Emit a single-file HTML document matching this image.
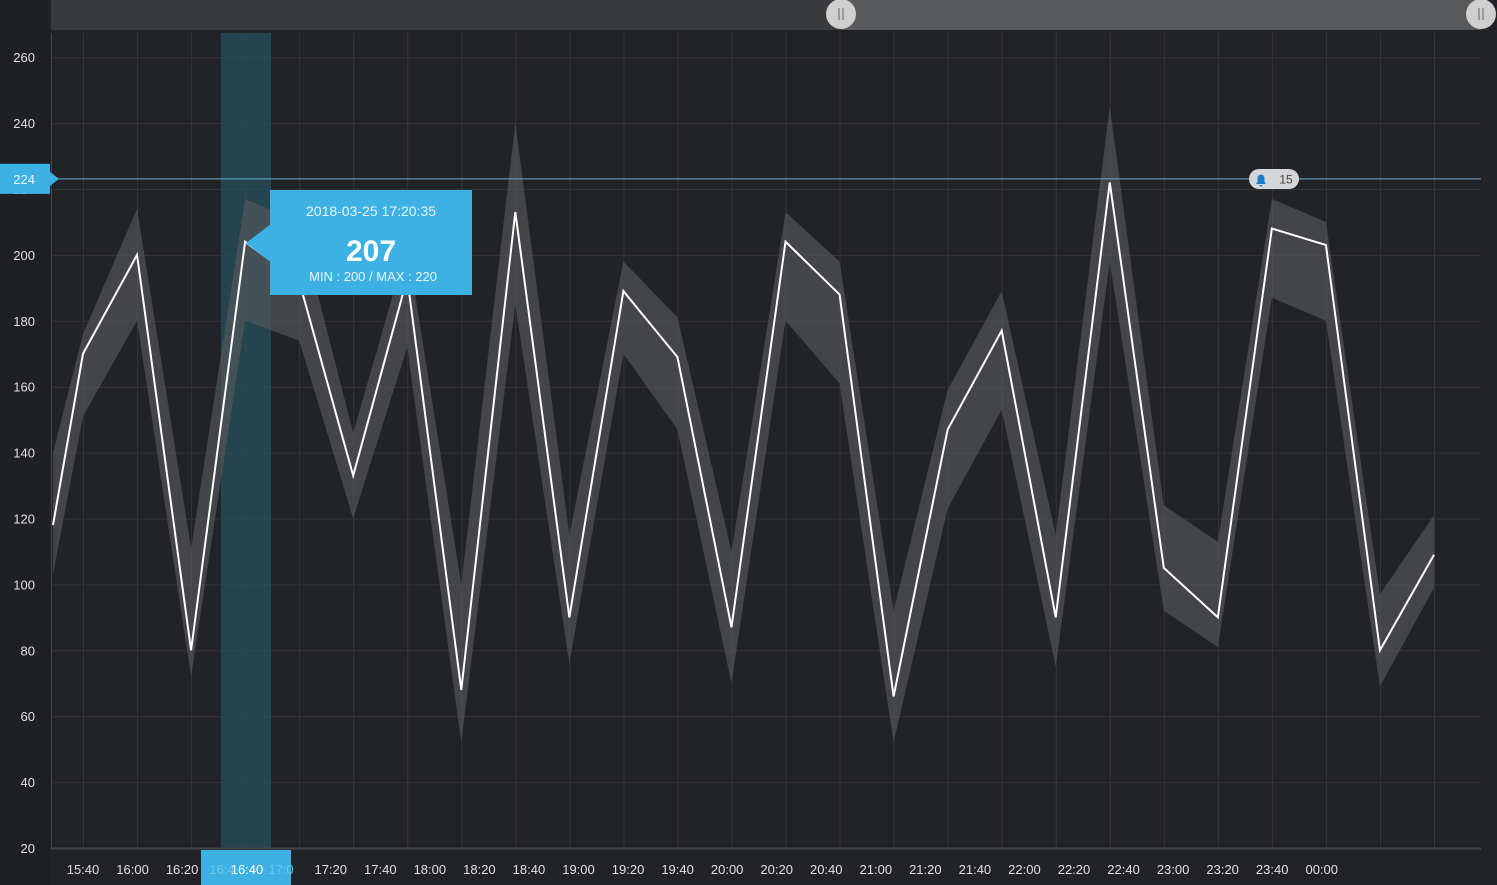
<!DOCTYPE html>
<html><head><meta charset="utf-8">
<style>
html,body{margin:0;padding:0;background:#222327;width:1497px;height:885px;overflow:hidden}
svg{display:block;font-family:"Liberation Sans",sans-serif}
</style></head>
<body>
<svg id="chart" width="1497" height="885" xmlns="http://www.w3.org/2000/svg">
  <rect x="0" y="0" width="1497" height="885" fill="#222327"/>
  <rect x="0" y="0" width="50" height="885" fill="#1f2023"/>
  <g id="scroll">
    <rect x="51" y="0" width="790" height="30" fill="#393a3e"/>
    <rect x="841" y="0" width="640" height="30" fill="#58595b"/>
    <g><circle cx="841" cy="14" r="15" fill="#cfcfcf"/><line x1="839" y1="8" x2="839" y2="20" stroke="#666"/><line x1="843" y1="8" x2="843" y2="20" stroke="#666"/></g>
    <g><circle cx="1481" cy="14" r="15" fill="#cfcfcf"/><line x1="1479" y1="8" x2="1479" y2="20" stroke="#666"/><line x1="1483" y1="8" x2="1483" y2="20" stroke="#666"/></g>
  </g>
  <g id="grid"></g>
  <g id="yticks"></g>
  <rect x="221" y="33" width="50" height="815" fill="#27505e" opacity="0.75"/>
  <g id="series"></g>
  <g id="xticks"></g>
  <line x1="51" y1="848.5" x2="1481" y2="848.5" stroke="#44454a" stroke-width="2"/>
  <line x1="51.5" y1="33" x2="51.5" y2="848" stroke="#44454a"/>
  <g>
    <line id="thline" x1="51" x2="1481" stroke="#6aaecd" stroke-width="1"/>
    <g id="thlabel"></g>
    <g>
      <rect x="1249" y="169" width="50" height="20" rx="10" fill="#d4d5d7"/>
      <path d="M1256 184 h10 l-1.5-2 v-4 a3.5 3.5 0 0 0 -7 0 v4 z M1259.5 185 a1.5 1.5 0 0 0 3 0z" fill="#1b7fd0"/>
      <text x="1286" y="183.5" font-size="12" fill="#444" text-anchor="middle">15</text>
    </g>
  </g>
  <g>
    <polygon points="246,243 271,224 271,262" fill="#3db1e3"/>
    <rect x="270" y="190" width="202" height="105" fill="#3db1e3"/>
    <text x="371" y="216" font-size="14" fill="#e8f6fc" text-anchor="middle">2018-03-25  17:20:35</text>
    <text x="371" y="261" font-size="30" font-weight="bold" fill="#fff" text-anchor="middle">207</text>
    <text x="373" y="281" font-size="13" fill="#e8f6fc" text-anchor="middle">MIN : 200 / MAX : 220</text>
  </g>
  <g>
    <rect x="201" y="850" width="90" height="35" fill="#3db1e3"/>
    <text x="222" y="874" font-size="13" fill="#6fc6ea" text-anchor="middle">16:4</text>
    <text x="281" y="874" font-size="13" fill="#6fc6ea" text-anchor="middle">17:0</text>
    <text x="247" y="874" font-size="13" fill="#fff" text-anchor="middle">16:40</text>
  </g>
</svg>
<script>
const yTicks=[20,40,60,80,100,120,140,160,180,200,220,240,260];
const xLabels=["15:40","16:00","16:20","16:40","17:00","17:20","17:40","18:00","18:20","18:40","19:00","19:20","19:40","20:00","20:20","20:40","21:00","21:20","21:40","22:00","22:20","22:40","23:00","23:20","23:40","00:00"];
const meanVals=[118,170,200,80,204,192,133,193,68,213,90,189,169,87,204,188,66,147,177,90,222,105,90,208,203,80,109];
const minVals=[103,151,180,72,180,174,120,172,52,185,76,170,147,70,180,161,52,123,153,75,198,92,81,187,180,69,99];
const maxVals=[140,176,214,111,217,210,146,203,100,240,115,198,181,110,213,198,92,159,189,115,245,124,113,217,210,97,121];
const threshold=224;
const NS="http://www.w3.org/2000/svg";
function y(v){return 848-(v-20)*3.295;}
function x(i){return i===0?53:83+54.04*(i-1);}
function xl(k){return 83+49.55*k;}
function mk(t,a,p){const e=document.createElementNS(NS,t);for(const k in a)e.setAttribute(k,a[k]);p.appendChild(e);return e;}
const grid=document.getElementById('grid'),yt=document.getElementById('yticks'),xt=document.getElementById('xticks'),ser=document.getElementById('series');
yTicks.forEach(v=>{
  const l=mk('line',{x1:51,x2:1481,y1:y(v)+0.5,y2:y(v)+0.5,stroke:'#34353a'},grid);
  
  
  const t=mk('text',{x:35,y:y(v)+5,'font-size':13,fill:'#e0e0e0','text-anchor':'end'},yt);
  t.textContent=v;
  
  
});
for(let i=1;i<meanVals.length;i++){
  const l=mk('line',{x1:x(i)+0.5,x2:x(i)+0.5,y1:33,y2:848,stroke:'#34353a'},grid);
  
  
}
xLabels.forEach((s,k)=>{
  if(k===3||k===4)return;
  const t=mk('text',{x:xl(k),y:874,'font-size':13,fill:'#e0e0e0','text-anchor':'middle'},xt);
  t.textContent=s;
  
  
});
let up=maxVals.map((v,i)=>x(i)+','+y(v)),dn=minVals.map((v,i)=>x(i)+','+y(v)).reverse();
const band=mk('polygon',{points:up.concat(dn).join(' '),fill:'#5a5b5f',opacity:0.6},ser);


const line=mk('polyline',{points:meanVals.map((v,i)=>x(i)+','+y(v)).join(' '),fill:'none',stroke:'#fff','stroke-width':2},ser);


const ty=y(threshold)+3;
const th=document.getElementById('thline');th.setAttribute('y1',ty);th.setAttribute('y2',ty);
const tl=document.getElementById('thlabel');
mk('rect',{x:0,y:ty-15,width:50,height:30,fill:'#3db1e3'},tl);
mk('polygon',{points:`50,${ty-7} 59,${ty} 50,${ty+7}`,fill:'#3db1e3'},tl);
const tt=mk('text',{x:35,y:ty+5,'font-size':13,fill:'#e8f6fc','text-anchor':'end'},tl);
tt.textContent=threshold;
</script>
</body></html>
